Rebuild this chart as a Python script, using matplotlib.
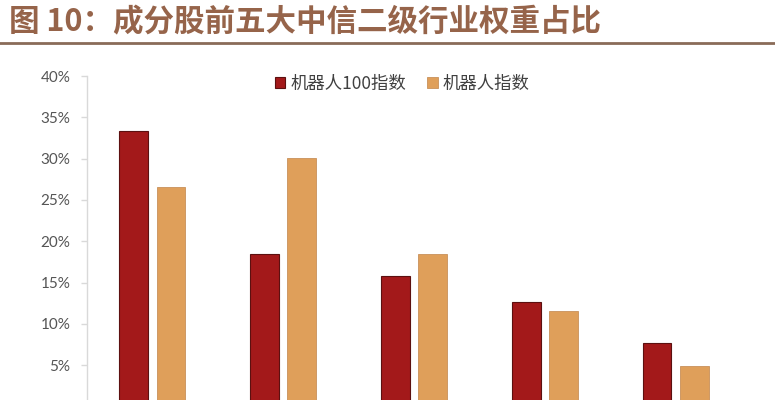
import numpy as np
import matplotlib.pyplot as plt
from matplotlib.lines import Line2D

plt.rcParams['font.family'] = ['Noto Sans CJK SC', 'DejaVu Sans']

# Five largest CITIC level-2 industries (labels fall below the visible crop)
groups = ["1", "2", "3", "4", "5"]
robot100 = [33.4, 18.5, 15.8, 12.6, 7.7]
robot_index = [26.6, 30.1, 18.4, 11.5, 4.9]
yticks = [5, 10, 15, 20, 25, 30, 35, 40]
ytick_labels = ["5%", "10%", "15%", "20%", "25%", "30%", "35%", "40%"]

red = "#A3191A"
orange = "#DF9F5A"

fig = plt.figure(figsize=(7.75, 4.0), dpi=100)

# title bar
fig.text(0.012, 0.945, "图 10：成分股前五大中信二级行业权重占比", fontsize=22,
         fontweight="bold", color="#96644A", va="center", ha="left")
fig.add_artist(Line2D([0.0, 1.0], [0.893, 0.893], color="#8A6B58", lw=2.0))

ax = fig.add_axes([0.1123, -0.016, 0.8439, 0.826])
x = np.arange(len(groups))
w = 0.22
ax.bar(x - 0.142, robot100, w, color=red, edgecolor="#5C1010", lw=0.8,
       label="机器人100指数")
ax.bar(x + 0.142, robot_index, w, color=orange, edgecolor="#C8915A", lw=0.6,
       label="机器人指数")

ax.set_xlim(-0.5, len(groups) - 0.5)
ax.set_ylim(0, 40)
ax.set_yticks(yticks)
ax.set_yticklabels(ytick_labels, family=["Lato", "DejaVu Sans"], fontsize=11,
                   color="#555555")
ax.set_xticks(x)
ax.set_xticklabels([])
ax.tick_params(axis="y", length=4, width=1, color="#D9D9D9", pad=8)
ax.tick_params(axis="x", length=0)
for s in ["top", "right", "bottom"]:
    ax.spines[s].set_visible(False)
ax.spines["left"].set_color("#D9D9D9")
ax.spines["left"].set_linewidth(1)

leg = ax.legend(loc="upper center", bbox_to_anchor=(0.482, 1.05), ncol=2,
                frameon=False, fontsize=12.5, handlelength=0.6, handleheight=0.6,
                handletextpad=0.3, columnspacing=1.2)
for t in leg.get_texts():
    t.set_color("#404040")

fig.savefig("out.png", dpi=100)
